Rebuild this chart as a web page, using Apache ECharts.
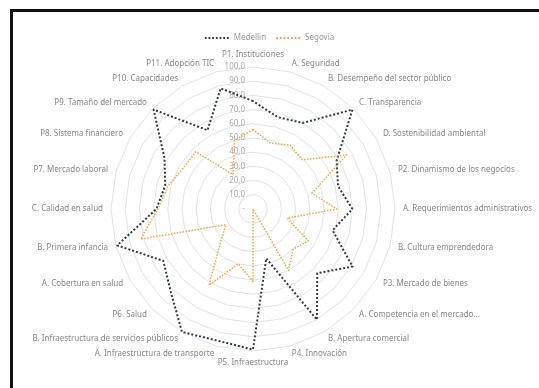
<!DOCTYPE html>
<html>
<head>
<meta charset="utf-8">
<script src="https://cdn.jsdelivr.net/npm/echarts@6/dist/echarts.min.js"></script>
<style>
  html, body { margin: 0; padding: 0; background: #fff; }
  #main { position: absolute; left: 0; top: 0; width: 539px; height: 388px; }
  #frame { position: absolute; left: 10px; top: 9px; right: -5px; bottom: -5px;
    border-left: 3px solid #111; border-top: 3px solid #111; pointer-events: none; }
</style>
</head>
<body>
<div id="main"></div>
<div id="frame"></div>
<script>
// indicadores en el sentido de las agujas del reloj, desde arriba
const indicators = [
  "P1. Instituciones", "A. Seguridad", "B. Desempeño del sector público",
  "C. Transparencia", "D. Sostenibilidad ambiental", "P2. Dinamismo de los negocios",
  "A. Requerimientos administrativos", "B. Cultura emprendedora", "P3. Mercado de bienes",
  "A. Competencia en el mercado...", "B. Apertura comercial", "P4. Innovación",
  "P5. Infraestructura", "A. Infraestructura de transporte",
  "B. Infraestructura de servicios públicos", "P6. Salud", "A. Cobertura en salud",
  "B. Primera infancia", "C. Calidad en salud", "P7. Mercado laboral",
  "P8. Sistema financiero", "P9. Tamaño del mercado", "P10. Capacidades", "P11. Adopción TIC"
];
const medellin = [76, 67, 70, 99, 68, 62, 70, 58, 81, 64, 90, 36, 99, 96, 100, 82, 73, 99, 68, 64, 72, 99, 64, 88];
const segovia  = [56, 48, 52, 49, 76, 43, 59, 25, 45, 40, 50, 0, 51, 40, 62, 32, 22, 82, 67, 62, 57, 57, 28, 50];
const seriesNames = ["Medellin", "Segovia"];
const maxValue = 100;

// echarts coloca los indicadores en sentido antihorario: invertimos (menos el primero)
function ccw(arr) {
  return [arr[0]].concat(arr.slice(1).reverse());
}

const dotLegend = "path://M0,0h2v2h-2zM4,0h2v2h-2zM8,0h2v2h-2zM12,0h2v2h-2zM16,0h2v2h-2zM20,0h2v2h-2zM24,0h2v2h-2z";

const chart = echarts.init(document.getElementById("main"));
chart.setOption({
  animation: false,
  color: ["#343c48", "#f2a642"],
  legend: {
    top: 29,
    left: "center",
    itemWidth: 24,
    itemHeight: 2,
    itemGap: 10,
    icon: dotLegend,
    textStyle: { color: "#999", fontSize: 8, fontFamily: "Noto Sans" },
    data: seriesNames
  },
  radar: {
    center: [253, 209],
    radius: 142,
    startAngle: 90,
    splitNumber: 10,
    shape: "polygon",
    nameGap: 8,
    axisName: { color: "#888", fontSize: 8, fontFamily: "Noto Sans" },
    splitLine: { lineStyle: { color: "#e2e2e2", width: 1 } },
    splitArea: { show: false },
    axisLine: { show: false },
    axisTick: { show: false },
    axisLabel: { show: false },
    indicator: ccw(indicators).map(function (name, i) {
      const ind = { name: name, min: 0, max: maxValue };
      if (i === 0) {
        ind.axisLabel = {
          show: true,
          color: "#aaa",
          fontSize: 8,
          fontFamily: "Noto Sans",
          formatter: function (v) { return v === 0 ? "-" : v.toFixed(1).replace(".", ","); }
        };
      }
      return ind;
    })
  },
  series: [{
    type: "radar",
    symbol: "none",
    data: [
      { name: seriesNames[0], value: ccw(medellin),
        lineStyle: { type: "dotted", width: 2, color: "#343c48" } },
      { name: seriesNames[1], value: ccw(segovia),
        lineStyle: { type: "dotted", width: 1.5, color: "#f2a642" } }
    ]
  }]
});
</script>
</body>
</html>
